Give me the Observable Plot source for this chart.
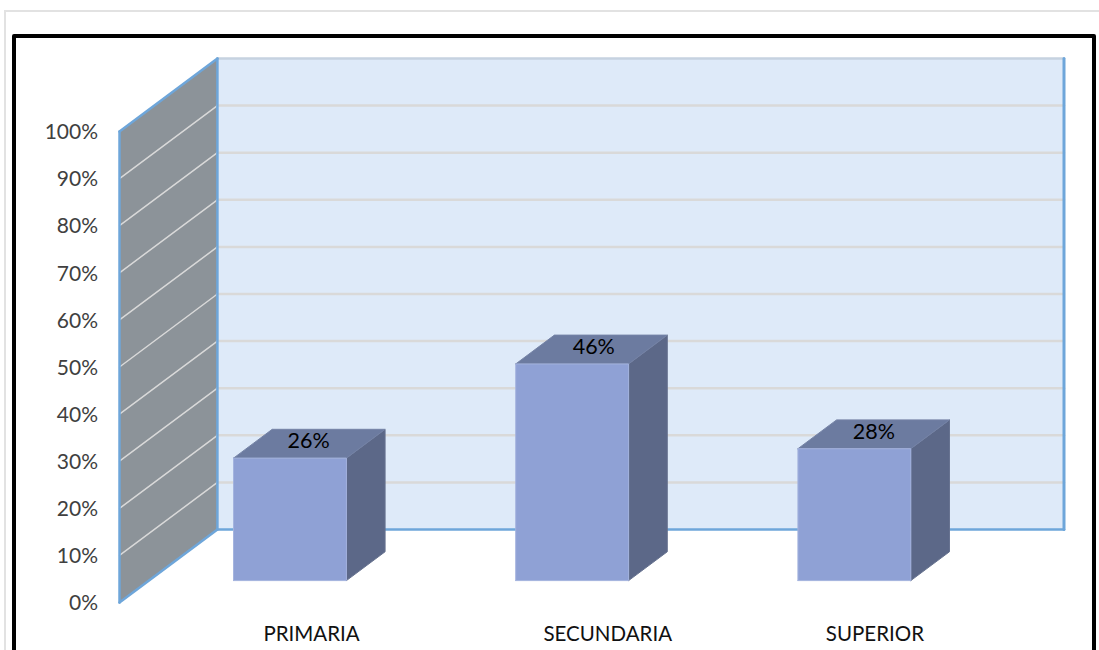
<!DOCTYPE html>
<html>
<head>
<meta charset="utf-8">
<script src="https://cdn.jsdelivr.net/npm/d3@7"></script>
<script src="https://cdn.jsdelivr.net/npm/@observablehq/plot@0.6"></script>
<style>
  html, body { margin: 0; padding: 0; background: #fff; overflow: hidden; }
  #page { position: relative; width: 1099px; height: 650px; overflow: hidden; }
  .sheet { position: absolute; left: 4px; top: 10px; width: 1200px; height: 800px; border: 2px solid #e2e2e2; }
  .box { position: absolute; left: 12px; top: 34px; width: 1076px; height: 800px; border: 4px solid #000; border-radius: 2px; }
  #chart { position: absolute; left: 0; top: 0; }
  svg { display: block; }
</style>
</head>
<body>
<div id="page">
  <div class="sheet"></div>
  <div class="box"></div>
  <div id="chart"></div>
</div>
<script>
// Education level shares, drawn as oblique 3D columns.
const categories = ["PRIMARIA", "SECUNDARIA", "SUPERIOR"];
const shares = [26, 46, 28];
const axisTicks = [0, 10, 20, 30, 40, 50, 60, 70, 80, 90, 100];

// Oblique projection: depth 0 is the front plane, depth 1 the back wall.
const depthX = 0.347;   // x units gained across the full depth
const depthY = 15.5;    // percent units gained across the full depth
const project = ([x, y, depth]) => ({ px: x + depth * depthX, py: y + depth * depthY });

const barHalf = 0.2;
const barNear = 0.3;
const barFar = 0.695;

// A closed, filled outline from projected 3D corners.
const face = (corners, options) => {
  const pts = corners.map(project);
  pts.push(pts[0]);
  return Plot.line(pts, { x: "px", y: "py", curve: "linear", strokeLinejoin: "round", ...options });
};

// A straight segment between two projected 3D points.
const edge = (a, b, options) => {
  const pts = [project(a), project(b)];
  return Plot.line(pts, { x: "px", y: "py", curve: "linear", ...options });
};

const blue = "#6ea6da";
const gridLines = axisTicks.filter(t => t > 0 && t < 100);

const wallMarks = [
  face([[0, 0, 0], [0, 100, 0], [0, 100, 1], [0, 0, 1]], { fill: "#8c9399", stroke: "none" }),
  face([[0, 0, 1], [3, 0, 1], [3, 100, 1], [0, 100, 1]], { fill: "#deeaf9", stroke: "none" }),
  ...gridLines.map(t => edge([0, t, 0], [0, t, 1], { stroke: "#d9d9d9", strokeWidth: 1.5 })),
  ...gridLines.map(t => edge([0, t, 1], [3, t, 1], { stroke: "#d9d9d9", strokeWidth: 2.5 })),
  edge([0, 100, 1], [3, 100, 1], { stroke: "#c6d2e0", strokeWidth: 2.5 }),
  edge([0, 0, 0], [0, 100, 0], { stroke: blue, strokeWidth: 2.5 }),
  edge([0, 100, 0], [0, 100, 1], { stroke: blue, strokeWidth: 2.5 }),
  edge([0, 0, 0], [0, 0, 1], { stroke: blue, strokeWidth: 2.5 }),
  edge([0, 0, 1], [0, 100, 1], { stroke: blue, strokeWidth: 2.5 }),
  edge([0, 0, 1], [3, 0, 1], { stroke: blue, strokeWidth: 2.5 }),
  edge([3, 0, 1], [3, 100, 1], { stroke: blue, strokeWidth: 3 })
];

const barMarks = shares.flatMap((v, i) => {
  const l = i + 0.5 - barHalf;
  const r = i + 0.5 + barHalf;
  return [
    face([[r, 0, barNear], [r, 0, barFar], [r, v, barFar], [r, v, barNear]], { fill: "#5c6888", stroke: "#66728f", strokeWidth: 1 }),
    face([[l, v, barNear], [r, v, barNear], [r, v, barFar], [l, v, barFar]], { fill: "#6c7ba0", stroke: "#7583a6", strokeWidth: 1 }),
    face([[l, 0, barNear], [r, 0, barNear], [r, v, barNear], [l, v, barNear]], { fill: "#8fa1d5", stroke: "#a4b3de", strokeWidth: 1 })
  ];
});

// Value labels sit on the top face of each column.
const valueNudge = [-1, 2, 0];
const valueMarks = shares.map((v, i) => {
  const p = project([i + 0.5, v, 0.5]);
  return Plot.text([v + "%"], {
    x: p.px,
    y: p.py,
    dx: valueNudge[i],
    dy: -2,
    text: d => d,
    fontSize: 21.5,
    fill: "#000"
  });
});

// Axis captions sit a little unevenly along the floor.
const captionNudge = [2, 16, 1];
const captionMarks = categories.map((c, i) =>
  Plot.text([c], {
    x: project([i + 0.5, 0, 0.5]).px,
    frameAnchor: "bottom",
    dy: 38,
    dx: captionNudge[i],
    text: d => d,
    fontSize: 20.5,
    fill: "#111"
  })
);

const chart = Plot.plot({
  width: 1099,
  height: 650,
  marginLeft: 119,
  marginRight: 35.5,
  marginTop: 58,
  marginBottom: 48,
  style: { background: "transparent", fontFamily: "Lato, sans-serif", overflow: "visible" },
  x: { domain: [0, 3 + depthX], axis: null },
  y: { domain: [0, 100 + depthY], axis: null },
  marks: [
    ...wallMarks,
    ...barMarks,
    Plot.axisY({
      anchor: "left",
      ticks: axisTicks,
      tickSize: 0,
      tickPadding: 21.5,
      tickFormat: d => d + "%",
      label: null,
      fontSize: 21,
      dy: 1,
      fill: "#404040"
    }),
    ...valueMarks,
    ...captionMarks
  ]
});

document.getElementById("chart").appendChild(chart);
</script>
</body>
</html>
